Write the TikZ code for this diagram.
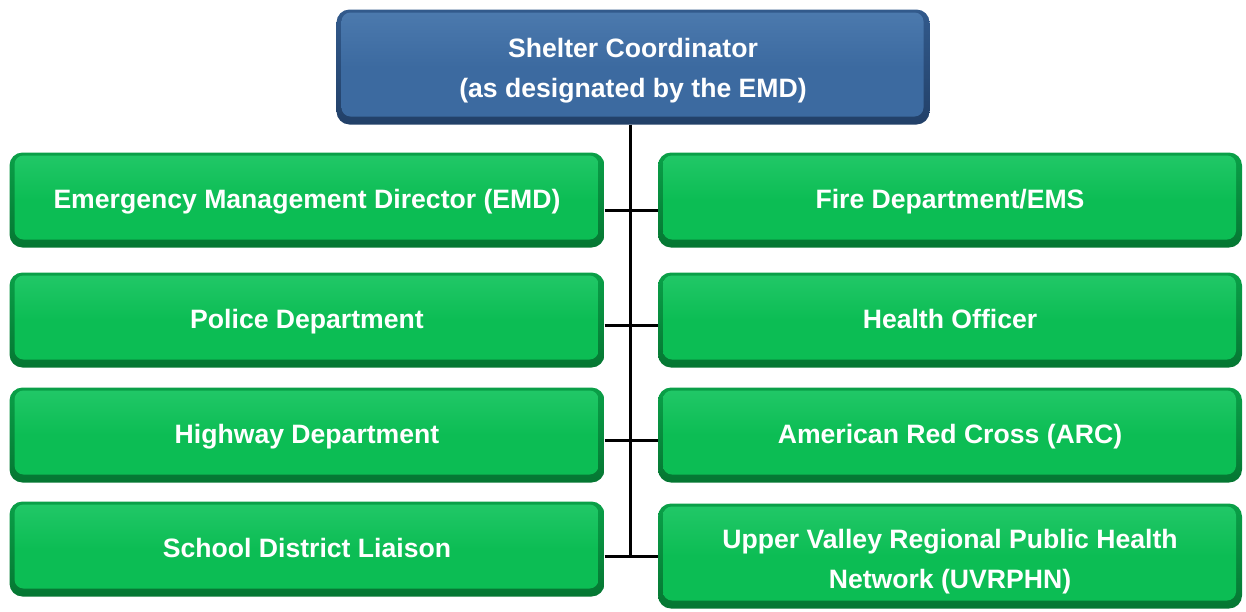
\documentclass[tikz,border=0pt]{standalone}
\usepackage{fontspec}
\setmainfont{Liberation Sans}
\usepackage{xcolor}

\definecolor{boxgreen}{RGB}{12,189,84}
\definecolor{boxgreenlt}{RGB}{34,200,104}
\definecolor{boxgreenmd}{RGB}{10,160,72}
\definecolor{boxgreendk}{RGB}{5,118,50}
\definecolor{boxblue}{RGB}{60,106,160}
\definecolor{boxbluelt}{RGB}{76,122,174}
\definecolor{boxbluemd}{RGB}{50,90,140}
\definecolor{boxbluedk}{RGB}{34,64,104}

\tikzset{
  orgbox/.style={rounded corners=13pt, inner sep=0pt, align=center,
    text=white, font=\fontsize{26.6}{40}\selectfont\bfseries,
    execute at begin node=\strut, execute at end node=\strut,
    top color=#1md, bottom color=#1dk,
    path picture={\shade[top color=#1lt, bottom color=#1, middle color=#1,
      rounded corners=9pt]
      ([xshift=5pt,yshift=-3pt]path picture bounding box.north west) rectangle
      ([xshift=-6pt,yshift=8pt]path picture bounding box.south east);}},
  twoline/.style={execute at begin node=\rule{0pt}{#1}},
  greenbox/.style={orgbox=boxgreen, minimum height=95pt},
  bluebox/.style={orgbox=boxblue},
  link/.style={line width=3pt, black}
}

\begin{document}
\begin{tikzpicture}[x=1pt,y=-1pt]
\useasboundingbox (0,0) rectangle (1246,611);

% top box
\node[bluebox, twoline=72pt, minimum width=593pt, minimum height=115pt] (coord) at (633,67)
  {Shelter Coordinator\\(as designated by the EMD)};

% left column
\node[greenbox, minimum width=595pt] (emd) at (307,200) {Emergency Management Director (EMD)};
\node[greenbox, minimum width=595pt] (police) at (307,320) {Police Department};
\node[greenbox, minimum width=595pt] (highway) at (307,435) {Highway Department};
\node[greenbox, minimum width=595pt] (school) at (307,549) {School District Liaison};

% right column
\node[greenbox, minimum width=584pt] (fire) at (950,200) {Fire Department/EMS};
\node[greenbox, minimum width=584pt] (health) at (950,320) {Health Officer};
\node[greenbox, minimum width=584pt] (arc) at (950,435) {American Red Cross (ARC)};
\node[greenbox, twoline=76pt, minimum width=584pt, minimum height=105pt] (uvrphn) at (950,556)
  {Upper Valley Regional Public Health\\Network (UVRPHN)};

% connectors
\draw[link] ([xshift=-3pt]coord.south) -- ([xshift=-3pt]coord.south |- uvrphn.west);
\draw[link] ([yshift=-10pt]emd.east) -- ([yshift=-10pt]fire.west);
\draw[link] ([yshift=-5pt]police.east) -- ([yshift=-5pt]health.west);
\draw[link] ([yshift=-5pt]highway.east) -- ([yshift=-5pt]arc.west);
\draw[link] (school.east |- uvrphn.west) -- (uvrphn.west);

\end{tikzpicture}
\end{document}
